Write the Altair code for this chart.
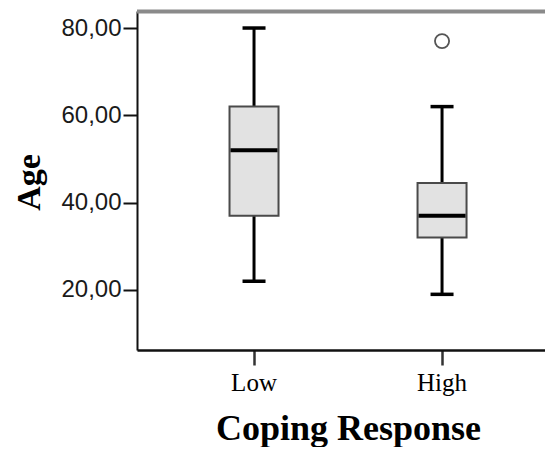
import altair as alt
import pandas as pd

# --- data ---
categories = ["Low", "High"]
whisker_low = [22, 19]
q1 = [37, 32]
median = [52, 37]
q3 = [62, 44.5]
whisker_high = [80, 62]
outlier_group = ["High"]
outlier_age = [77]
y_ticks = [20, 40, 60, 80]

df = pd.DataFrame({
    "group": categories,
    "lo": whisker_low,
    "q1": q1,
    "med": median,
    "q3": q3,
    "hi": whisker_high,
})
out_df = pd.DataFrame({"group": outlier_group, "age": outlier_age})

W, H = 408, 339

xscale = alt.Scale(type="band", domain=categories, paddingInner=0,
                   paddingOuter=0.085, align=0.72)
yscale = alt.Scale(domain=[6.25, 83.9], nice=False, zero=False)

xaxis = alt.Axis(
    title="Coping Response", labelAngle=0,
    labelFont="Liberation Serif", labelFontSize=25, labelColor="#000",
    labelPadding=5, tickSize=15, tickWidth=2.5, tickColor="#333",
    domainColor="#111", domainWidth=2.5, grid=False,
    titleFont="Liberation Serif", titleFontSize=36, titleFontWeight="bold",
    titleColor="#000", titleX=211, titleY=89, titleBaseline="alphabetic",
    titleAlign="center",
)
yaxis = alt.Axis(
    title="Age", values=y_ticks,
    labelExpr="replace(format(datum.value, '.2f'), '.', ',')",
    labelFont="Liberation Sans", labelFontSize=24, labelColor="#1a1a1a",
    labelPadding=2, tickSize=14, tickWidth=2, tickColor="#111",
    domainColor="#111", domainWidth=2, grid=False,
    titleFont="Liberation Serif", titleFontSize=34, titleFontWeight="bold",
    titleColor="#000", titleX=-98, titleY=171, titleBaseline="alphabetic",
    titleAlign="center", titleAngle=270,
)

X = alt.X("group:N", sort=categories, scale=xscale, axis=xaxis)

def Y(field):
    return alt.Y(f"{field}:Q", scale=yscale, axis=yaxis)

base = alt.Chart(df)

upper = base.mark_rule(color="#000", strokeWidth=3).encode(x=X, y=Y("q3"), y2="hi")
lower = base.mark_rule(color="#000", strokeWidth=3).encode(x=X, y=Y("lo"), y2="q1")
box = base.mark_bar(size=49, fill="#e2e2e2", stroke="#4a4a4a", strokeWidth=2).encode(
    x=X, y=Y("q1"), y2="q3")
med = base.mark_tick(size=47, thickness=4, color="#000", opacity=1).encode(x=X, y=Y("med"))
cap_hi = base.mark_tick(size=23, thickness=3.5, color="#000", opacity=1).encode(x=X, y=Y("hi"))
cap_lo = base.mark_tick(size=23, thickness=3.5, color="#000", opacity=1).encode(x=X, y=Y("lo"))
outl = alt.Chart(out_df).mark_point(filled=False, size=200, stroke="#555",
                                     strokeWidth=1.8, opacity=1).encode(x=X, y=Y("age"))

top_border = alt.Chart(pd.DataFrame({"a": [0]})).mark_rule(
    stroke="#8a8a8a", strokeWidth=4).encode(
    x=alt.value(0), x2=alt.value(W), y=alt.value(0.5))

chart = alt.layer(upper, lower, box, med, cap_hi, cap_lo, outl, top_border).properties(
    width=W, height=H,
    padding={"left": 129, "top": 3, "right": 0, "bottom": 97},
    autosize="none",
).configure_view(stroke=None).configure(background="white")

chart.save("out.html", embed_options={"renderer": "svg", "actions": False})
